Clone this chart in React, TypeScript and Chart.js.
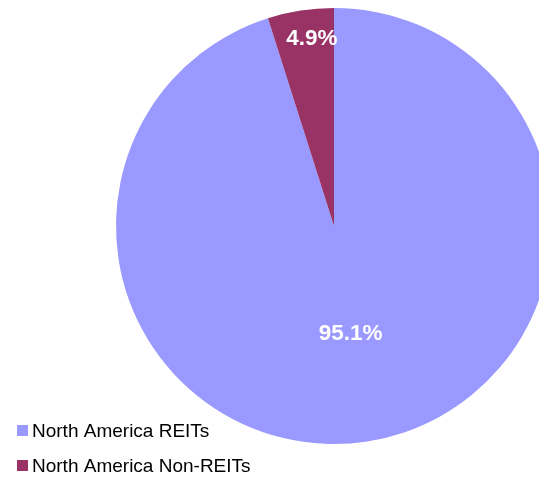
import React, { useEffect, useRef } from "react";
import { Chart, registerables } from "chart.js";

Chart.register(...registerables);

const categories = ["North America REITs", "North America Non-REITs"];
const shares = [95.1, 4.9];
const sliceLabels = ["95.1%", "4.9%"];
const colors = ["#9999FF", "#993366"];

const FONT = "'Liberation Sans', Arial, sans-serif";

// label placement: [fraction along slice angle, fraction of radius]
const labelPlacement = [
  [0.5, 0.5],
  [0.62, 0.865],
];

const labelPlugin = {
  id: "sliceLabels",
  afterDatasetsDraw(chart: any) {
    const ctx = chart.ctx;
    const meta = chart.getDatasetMeta(0);
    ctx.save();
    ctx.fillStyle = "#FFFFFF";
    ctx.font = `bold 22.5px ${FONT}`;
    ctx.textAlign = "center";
    ctx.textBaseline = "middle";
    meta.data.forEach((arc: any, i: number) => {
      const p = arc.getProps(["x", "y", "startAngle", "endAngle", "outerRadius"], true);
      const [ta, tr] = labelPlacement[i];
      const ang = p.startAngle + ta * (p.endAngle - p.startAngle);
      const r = p.outerRadius * tr;
      ctx.fillText(sliceLabels[i], p.x + Math.cos(ang) * r, p.y + Math.sin(ang) * r);
    });
    ctx.restore();
  },
};

const legendPlugin = {
  id: "customLegend",
  afterDraw(chart: any) {
    const ctx = chart.ctx;
    ctx.save();
    ctx.font = `19px ${FONT}`;
    ctx.textAlign = "left";
    ctx.textBaseline = "alphabetic";
    categories.forEach((name, i) => {
      const top = 425 + i * 35;
      ctx.fillStyle = colors[i];
      ctx.fillRect(17, top, 11, 11);
      ctx.fillStyle = "#000000";
      ctx.fillText(name, 32, top + 11.7);
    });
    ctx.restore();
  },
};

export default function App() {
  const ref = useRef<HTMLCanvasElement>(null);
  useEffect(() => {
    if (!ref.current) return;
    const chart = new Chart(ref.current, {
      type: "pie",
      data: {
        labels: categories,
        datasets: [
          {
            data: shares,
            backgroundColor: colors,
            borderWidth: 0,
          },
        ],
      },
      options: {
        responsive: false,
        animation: false,
        layout: { padding: { left: 116, top: 8, right: 48, bottom: 35 } },
        plugins: {
          legend: { display: false },
          tooltip: { enabled: false },
        },
      },
      plugins: [labelPlugin, legendPlugin],
    });
    return () => chart.destroy();
  }, []);
  return (
    <div
      style={{
        position: "absolute",
        left: 0,
        top: 0,
        width: 539,
        height: 479,
        overflow: "hidden",
        background: "#FFFFFF",
      }}
    >
      <canvas ref={ref} width={600} height={479} style={{ width: 600, height: 479, display: "block" }} />
    </div>
  );
}
